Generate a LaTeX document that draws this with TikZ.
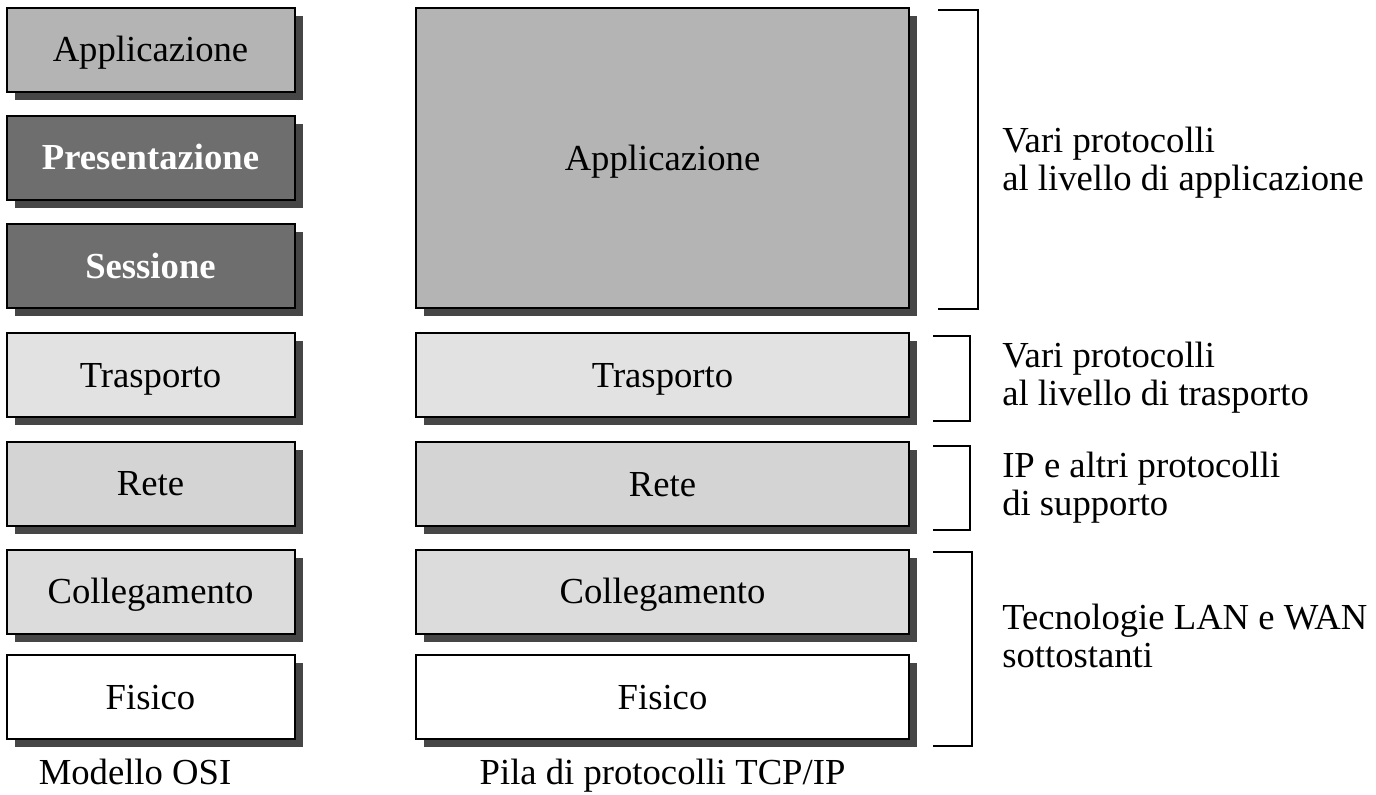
\documentclass[tikz,border=0pt]{standalone}
\usepackage{fontspec}
\setmainfont{Liberation Serif}
\usetikzlibrary{shadows}
\definecolor{appgray}{RGB}{180,180,180}
\definecolor{darkgray}{RGB}{110,110,110}
\definecolor{trgray}{RGB}{226,226,226}
\definecolor{retegray}{RGB}{212,212,212}
\definecolor{colgray}{RGB}{220,220,220}
\definecolor{shadowgray}{RGB}{70,70,70}
\tikzset{
  layer/.style={draw=black, line width=1.5pt, inner sep=0pt,
    font=\fontsize{27.5}{28.5}\selectfont, text height=19pt, text depth=1pt,
    drop shadow={shadow xshift=6pt, shadow yshift=-6pt, fill=shadowgray, opacity=1}},
  osi/.style={layer, minimum width=216pt, minimum height=63pt},
  tcp/.style={layer, minimum width=370pt, minimum height=63pt},
  boldlayer/.style={fill=darkgray, text=white, font=\fontsize{27.5}{28.5}\selectfont\bfseries},
  note/.style={anchor=west, align=left, inner sep=0pt, font=\fontsize{27.5}{28.5}\selectfont},
  caption/.style={anchor=base, inner sep=0pt, font=\fontsize{27.5}{28.5}\selectfont},
  brk/.style={line width=1.5pt}
}
\begin{document}
\begin{tikzpicture}[x=0.75pt,y=-0.75pt]
\useasboundingbox (0,0) rectangle (1376,794);
% OSI column
\node[osi, fill=appgray] (oapp) at (150.5,49.5) {Applicazione};
\node[osi, boldlayer] (opres) at (150.5,157.5) {Presentazione};
\node[osi, boldlayer] (osess) at (150.5,266) {Sessione};
\node[osi, fill=trgray] (otr) at (150.5,375) {Trasporto};
\node[osi, fill=retegray] (orete) at (150.5,483.5) {Rete};
\node[osi, fill=colgray] (ocol) at (150.5,591.5) {Collegamento};
\node[osi, fill=white] (ofis) at (150.5,697) {Fisico};
% TCP/IP column
\node[tcp, fill=appgray, minimum height=225pt] (tapp) at (662.5,158) {Applicazione};
\node[tcp, fill=trgray] (ttr) at (662.5,375) {Trasporto};
\node[tcp, fill=retegray] (trete) at (662.5,484) {Rete};
\node[tcp, fill=colgray] (tcol) at (662.5,591.5) {Collegamento};
\node[tcp, fill=white] (tfis) at (662.5,697) {Fisico};
% captions
\node[caption] (cosi) at (135,784) {Modello OSI};
\node[caption] (ctcp) at (662.5,784) {Pila di protocolli TCP/IP};
% brackets
\coordinate (a1) at (938,10);  \coordinate (a2) at (978,10);
\coordinate (a3) at (978,309); \coordinate (a4) at (938,309);
\draw[brk] (a1) -- (a2) -- (a3) -- (a4);
\coordinate (b1) at (933,336); \coordinate (b2) at (970,336);
\coordinate (b3) at (970,421); \coordinate (b4) at (933,421);
\draw[brk] (b1) -- (b2) -- (b3) -- (b4);
\coordinate (c1) at (933,446); \coordinate (c2) at (970,446);
\coordinate (c3) at (970,530); \coordinate (c4) at (933,530);
\draw[brk] (c1) -- (c2) -- (c3) -- (c4);
\coordinate (d1) at (933,552); \coordinate (d2) at (972,552);
\coordinate (d3) at (972,746); \coordinate (d4) at (933,746);
\draw[brk] (d1) -- (d2) -- (d3) -- (d4);
% notes
\node[note] (n1) at (1002,162.5) {Vari protocolli\\al livello di applicazione};
\node[note] (n2) at (1002,377.5) {Vari protocolli\\al livello di trasporto};
\node[note] (n3) at (1002,488) {IP e altri protocolli\\di supporto};
\node[note] (n4) at (1002,636) {Tecnologie LAN e WAN\\sottostanti};
\end{tikzpicture}
\end{document}
